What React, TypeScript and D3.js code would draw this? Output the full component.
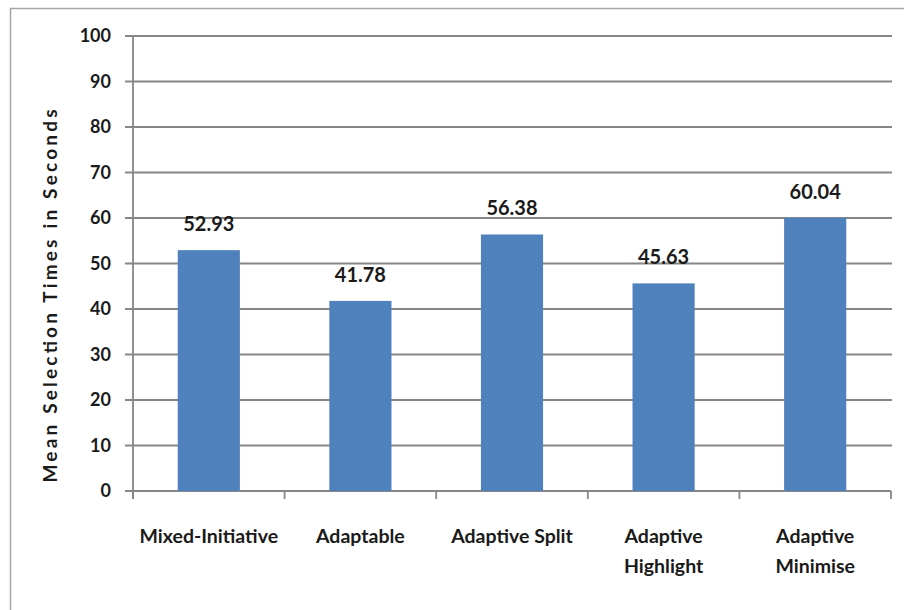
import React from "react";
import * as d3 from "d3";

const categories: string[][] = [
  ["Mixed-Initiative"],
  ["Adaptable"],
  ["Adaptive Split"],
  ["Adaptive", "Highlight"],
  ["Adaptive", "Minimise"],
];
const values: number[] = [52.93, 41.78, 56.38, 45.63, 60.04];
const yTicks: number[] = [0, 10, 20, 30, 40, 50, 60, 70, 80, 90, 100];
const yTitle = "Mean Selection Times in Seconds";

const W = 904;
const H = 610;
const left = 133;
const right = 891;
const top = 36;
const bottom = 491;
const FONT = "Lato, 'Open Sans', sans-serif";
const TEXT = "#1a1a1a";

export default function App() {
  const x = d3
    .scaleBand<number>()
    .domain(values.map((_, i) => i))
    .range([left, right])
    .paddingInner(0.59)
    .paddingOuter(0.295);
  const y = d3.scaleLinear().domain([0, 100]).range([bottom, top]);
  const step = (right - left) / values.length;

  return (
    <svg
      width={W}
      height={H}
      style={{ position: "absolute", left: 0, top: 0, background: "#fff" }}
      fontFamily={FONT}
    >
      <rect x={10.5} y={8.5} width={W} height={H} fill="#fff" stroke="#a6a6a6" strokeWidth={1.5} />
      {yTicks.map((t) => (
        <g key={t}>
          <line x1={125} x2={t === 0 ? right : 892} y1={y(t)} y2={y(t)} stroke="#868686" strokeWidth={1.8} />
          <text
            x={111}
            y={y(t)}
            dy="0.36em"
            textAnchor="end"
            fontSize={18}
            fontWeight={700}
            fill={TEXT}
          >
            {t}
          </text>
        </g>
      ))}
      <line x1={left} x2={left} y1={top - 1} y2={bottom + 8} stroke="#868686" strokeWidth={1.8} />
      {d3.range(values.length + 1).map((i) => (
        <line
          key={i}
          x1={left + i * step}
          x2={left + i * step}
          y1={bottom}
          y2={bottom + 8}
          stroke="#868686"
          strokeWidth={1.8}
        />
      ))}
      {values.map((v, i) => (
        <g key={i}>
          <rect x={x(i)} y={y(v)} width={x.bandwidth()} height={bottom - y(v)} fill="#4F81BD" />
          <text
            x={(x(i) as number) + x.bandwidth() / 2}
            y={y(v) - 19}
            textAnchor="middle"
            fontSize={20}
            fontWeight={700}
            fill={TEXT}
          >
            {v.toFixed(2)}
          </text>
          {categories[i].map((line, j) => (
            <text
              key={j}
              x={(x(i) as number) + x.bandwidth() / 2}
              y={543 + j * 30}
              textAnchor="middle"
              fontSize={19.5}
              fontWeight={700}
              fill={TEXT}
            >
              {line}
            </text>
          ))}
        </g>
      ))}
      <text
        transform={`translate(57, 296) rotate(-90)`}
        textAnchor="middle"
        fontSize={19}
        fontWeight={700}
        fill={TEXT}
        textLength={373}
        lengthAdjust="spacing"
      >
        {yTitle}
      </text>
    </svg>
  );
}
